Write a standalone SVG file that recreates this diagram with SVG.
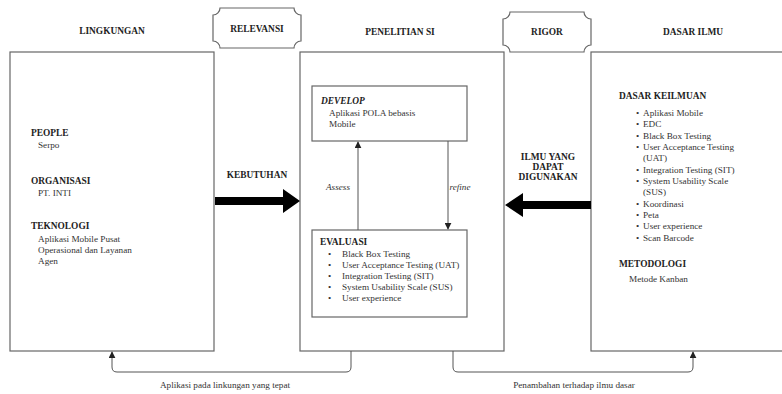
<svg xmlns="http://www.w3.org/2000/svg" width="782" height="394" viewBox="0 0 782 394">
<style>
text{font-family:'Liberation Serif','DejaVu Serif',serif;fill:#333;font-size:9.2px}
.h{font-weight:bold;fill:#222;font-size:9.4px}
.c{text-anchor:middle}
.i{font-style:italic}
.box{fill:#fff;stroke:#666;stroke-width:1.2}
.ln{fill:none;stroke:#555;stroke-width:1}
.big{fill:#000}
</style>
<defs>
<marker id="ah" viewBox="0 0 10 10" refX="9" refY="5" markerWidth="7" markerHeight="7" orient="auto-start-reverse" markerUnits="userSpaceOnUse">
<path d="M0,0 L10,5 L0,10 Z" fill="#222"/>
</marker>
</defs>
<rect width="782" height="394" fill="#fff"/>

<g id="lingkungan">
<text class="h c" x="112" y="34">LINGKUNGAN</text>
<rect class="box" x="10" y="52" width="204" height="299"/>
<text class="h" x="31" y="136">PEOPLE</text>
<text x="38" y="148">Serpo</text>
<text class="h" x="31" y="184">ORGANISASI</text>
<text x="38" y="196">PT. INTI</text>
<text class="h" x="31" y="229">TEKNOLOGI</text>
<text x="38" y="242">Aplikasi Mobile Pusat</text>
<text x="38" y="253">Operasional dan Layanan</text>
<text x="38" y="264">Agen</text>
</g>

<g id="relevansi">
<path class="box" d="M220 8 H294 A7 7 0 0 0 301 15 V41 A7 7 0 0 0 294 48 H220 A7 7 0 0 0 213 41 V15 A7 7 0 0 0 220 8 Z"/>
<text class="h c" x="257" y="32">RELEVANSI</text>
</g>

<g id="penelitian">
<text class="h c" x="400" y="35">PENELITIAN SI</text>
<rect class="box" x="300" y="52" width="204" height="299"/>
</g>

<g id="develop">
<rect class="box" x="312" y="86" width="155" height="55"/>
<text class="h i" x="321" y="104">DEVELOP</text>
<text x="329" y="116">Aplikasi POLA bebasis</text>
<text x="329" y="127">Mobile</text>
</g>

<g id="evaluasi">
<rect class="box" x="312" y="230" width="155" height="87"/>
<text class="h" x="320" y="245">EVALUASI</text>
<text x="328" y="257">•</text><text x="342" y="257">Black Box Testing</text>
<text x="328" y="268">•</text><text x="342" y="268">User Acceptance Testing (UAT)</text>
<text x="328" y="279">•</text><text x="342" y="279">Integration Testing (SIT)</text>
<text x="328" y="290">•</text><text x="342" y="290">System Usability Scale (SUS)</text>
<text x="328" y="301">•</text><text x="342" y="301">User experience</text>
</g>

<g id="rigor">
<path class="box" d="M510 12 H584 A7 7 0 0 0 591 19 V45 A7 7 0 0 0 584 52 H510 A7 7 0 0 0 503 45 V19 A7 7 0 0 0 510 12 Z"/>
<text class="h c" x="547" y="35">RIGOR</text>
</g>

<g id="dasar-ilmu">
<text class="h c" x="693" y="35">DASAR ILMU</text>
<rect class="box" x="591" y="52" width="200" height="299"/>
<text class="h" x="619" y="99">DASAR KEILMUAN</text>
<text x="636" y="116">•</text><text x="643" y="116">Aplikasi Mobile</text>
<text x="636" y="127">•</text><text x="643" y="127">EDC</text>
<text x="636" y="139">•</text><text x="643" y="139">Black Box Testing</text>
<text x="636" y="150">•</text><text x="643" y="150">User Acceptance Testing</text>
<text x="643" y="161">(UAT)</text>
<text x="636" y="173">•</text><text x="643" y="173">Integration Testing (SIT)</text>
<text x="636" y="184">•</text><text x="643" y="184">System Usability Scale</text>
<text x="643" y="195">(SUS)</text>
<text x="636" y="207">•</text><text x="643" y="207">Koordinasi</text>
<text x="636" y="218">•</text><text x="643" y="218">Peta</text>
<text x="636" y="229">•</text><text x="643" y="229">User experience</text>
<text x="636" y="241">•</text><text x="643" y="241">Scan Barcode</text>
<text class="h" x="619" y="267">METODOLOGI</text>
<text x="629" y="282">Metode Kanban</text>
</g>

<g id="connectors">
<text class="h c" x="257" y="178">KEBUTUHAN</text>
<path class="big" d="M215 197 H283 V189 L300 201 L283 213 V205 H215 Z"/>
<text class="h c" x="548" y="160">ILMU YANG</text>
<text class="h c" x="548" y="170">DAPAT</text>
<text class="h c" x="548" y="180">DIGUNAKAN</text>
<path class="big" d="M591 201 H523 V193 L505 205 L523 217 V209 H591 Z"/>
<line class="ln" x1="358" y1="230" x2="358" y2="142" marker-end="url(#ah)"/>
<text class="i c" x="338" y="190">Assess</text>
<line class="ln" x1="448" y1="141" x2="448" y2="229" marker-end="url(#ah)"/>
<text class="i c" x="460" y="190">refine</text>
<path class="ln" d="M351 351 V367 Q351 372 346 372 H117 Q112 372 112 367 V352" marker-end="url(#ah)"/>
<text class="c" x="225" y="388">Aplikasi pada linkungan yang tepat</text>
<path class="ln" d="M453 351 V367 Q453 372 458 372 H688 Q693 372 693 367 V352" marker-end="url(#ah)"/>
<text class="c" x="574" y="388">Penambahan terhadap ilmu dasar</text>
</g>
</svg>
